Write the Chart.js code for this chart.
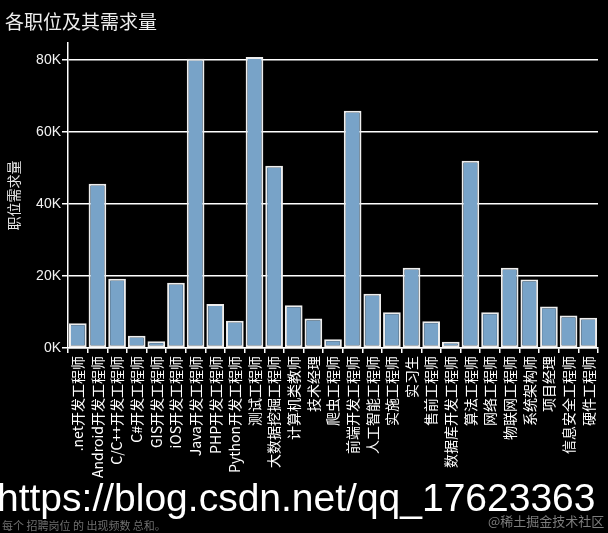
<!DOCTYPE html>
<html>
<head>
<meta charset="utf-8">
<script src="https://cdn.jsdelivr.net/npm/chart.js@4"></script>
<style>
    html, body { margin: 0; padding: 0; background: #000; }
    .wrap { position: relative; width: 608px; height: 533px; overflow: hidden; background: #000; }
    .wrap canvas { position: absolute; left: 0; top: 0; }
    .title { position: absolute; left: 5px; top: 8px; color: #eee; font: 19px "Noto Sans CJK SC", sans-serif; line-height: 26px; }
    .note { position: absolute; left: 2px; top: 517px; color: #6f6f6f; font: 11px "Noto Sans CJK SC", sans-serif; white-space: pre; }
    .mark { position: absolute; left: -3px; top: 476px; color: #fff; font: 39px "Liberation Sans", Arial, sans-serif; line-height: 44px; white-space: nowrap; }
    .juejin { position: absolute; left: 488px; top: 511px; color: #7d7d7d; font: 13px "Noto Sans CJK SC", sans-serif; white-space: nowrap; }
</style>
</head>
<body>
<div class="wrap">
    <canvas class="job-chart" width="608" height="533"></canvas>
    <div class="title">各职位及其需求量</div>
    <div class="note">每个 招聘岗位 的 出现频数 总和。</div>
    <div class="mark">https://blog.csdn.net/qq_17623363</div>
    <div class="juejin">@稀土掘金技术社区</div>
</div>
<script>
// job titles, left to right
const jobs = [
    '.net开发工程师', 'Android开发工程师', 'C/C++开发工程师', 'C#开发工程师', 'GIS开发工程师',
    'iOS开发工程师', 'Java开发工程师', 'PHP开发工程师', 'Python开发工程师', '测试工程师',
    '大数据挖掘工程师', '计算机类教师', '技术经理', '爬虫工程师', '前端开发工程师',
    '人工智能工程师', '实施工程师', '实习生', '售前工程师', '数据库开发工程师',
    '算法工程师', '网络工程师', '物联网工程师', '系统架构师', '项目经理',
    '信息安全工程师', '硬件工程师'
];

// demand per job
const demand = [
    6900, 45600, 19200, 3400, 1900,
    18100, 80300, 12200, 7600, 80800,
    50600, 11900, 8200, 2400, 65900,
    15100, 9900, 22300, 7400, 1750,
    52000, 9900, 22300, 19000, 11500,
    9000, 8400
];

// y axis ticks
const yTicks = [0, 20000, 40000, 60000, 80000];
const yMax = 84700;

const ctx = document.querySelector('.job-chart').getContext('2d');

new Chart(ctx, {
    type: 'bar',
    data: {
        labels: jobs,
        datasets: [{
            label: '职位需求量',
            data: demand,
            backgroundColor: '#78a3c8',
            borderColor: '#eeeeee',
            borderWidth: 2,
            borderSkipped: false,
            barPercentage: 0.9,
            categoryPercentage: 1
        }]
    },
    options: {
        responsive: false,
        animation: false,
        devicePixelRatio: 1,
        layout: { padding: { top: 43, left: 0, right: 0, bottom: 0 } },
        scales: {
            x: {
                afterFit: (scale) => { scale.height = 185; },
                ticks: {
                    color: '#fff',
                    autoSkip: false,
                    minRotation: 90,
                    maxRotation: 90,
                    padding: 3,
                    font: { family: '"Noto Sans CJK SC", sans-serif', size: 14 }
                },
                grid: { drawOnChartArea: false, drawTicks: true, tickLength: 5, color: '#fff', lineWidth: 1.5 },
                border: { color: '#fff', width: 1.5 }
            },
            y: {
                min: 0,
                max: yMax,
                afterFit: (scale) => { scale.width = 68; },
                afterBuildTicks: (scale) => { scale.ticks = yTicks.map(v => ({ value: v })); },
                ticks: {
                    color: '#f2f2f2',
                    padding: 1,
                    font: { family: '"Liberation Sans", Arial, sans-serif', size: 14 },
                    callback: (v) => (v / 1000) + 'K'
                },
                grid: { color: '#fff', lineWidth: 1.5, tickLength: 6 },
                border: { color: '#fff', width: 1.5 },
                title: {
                    display: true,
                    text: '职位需求量',
                    color: '#e6e6e6',
                    padding: { top: 5, bottom: 0 },
                    font: { family: '"Noto Sans CJK SC", sans-serif', size: 14 }
                }
            }
        },
        plugins: {
            legend: { display: false },
            tooltip: { enabled: false }
        }
    }
});
</script>
</body>
</html>
